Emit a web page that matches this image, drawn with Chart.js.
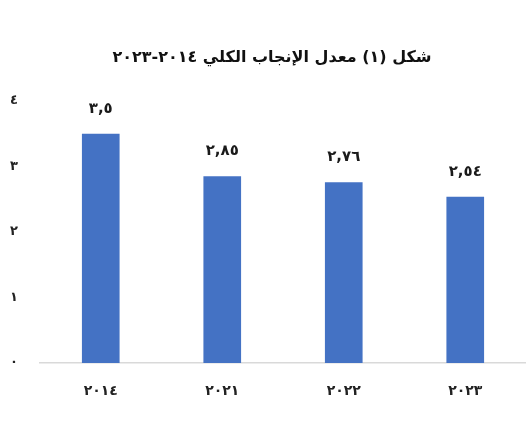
<!DOCTYPE html>
<html lang="ar">
<head>
  <meta charset="UTF-8" />
  <title>معدل الإنجاب الكلي</title>
  <script src="https://cdn.jsdelivr.net/npm/chart.js"></script>
  <style>
    body { margin: 0; padding: 0; background: #ffffff; }
    canvas { display: block; direction: rtl; }
  </style>
</head>
<body>
  <canvas id="chart" width="526" height="442"></canvas>

  <script>
    // data
    const years = ['2014', '2021', '2022', '2023'];
    const fertility = [3.5, 2.85, 2.76, 2.54];
    const yTicks = [0, 1, 2, 3, 4];

    const chartTitle = 'شكل (١) معدل الإنجاب الكلي ٢٠١٤-٢٠٢٣';
    const arabicFont = "'DejaVu Sans', sans-serif";

    // western digits -> arabic-indic digits
    function toArabic(s) {
      return String(s).replace(/[0-9]/g, d => '٠١٢٣٤٥٦٧٨٩'[d]);
    }

    // title sits a little right of the canvas centre in the original
    const titleText = {
      id: 'titleText',
      afterDraw(chart) {
        const ctx = chart.ctx;
        ctx.save();
        ctx.font = 'bold 16px ' + arabicFont;
        ctx.fillStyle = '#111';
        ctx.textAlign = 'center';
        ctx.textBaseline = 'middle';
        ctx.fillText(chartTitle, chart.width / 2 + 9, 58);
        ctx.restore();
      }
    };

    // value labels above the bars, e.g. ٣,٥
    const valueLabels = {
      id: 'valueLabels',
      afterDatasetsDraw(chart) {
        const ctx = chart.ctx;
        const meta = chart.getDatasetMeta(0);
        ctx.save();
        ctx.font = 'bold 15px ' + arabicFont;
        ctx.fillStyle = '#1a1a1a';
        ctx.textAlign = 'center';
        ctx.textBaseline = 'alphabetic';
        meta.data.forEach((bar, i) => {
          const txt = toArabic(String(fertility[i]).replace('.', ','));
          ctx.fillText(txt, bar.x, bar.y - 21);
        });
        ctx.restore();
      }
    };

    new Chart(document.getElementById('chart'), {
      type: 'bar',
      data: {
        labels: years.map(toArabic),
        datasets: [{
          data: fertility,
          backgroundColor: '#4472C4',
          borderWidth: 0,
          barPercentage: 0.31,
          categoryPercentage: 1
        }]
      },
      options: {
        responsive: false,
        animation: false,
        layout: { padding: { left: 0, right: 0, top: 101, bottom: 0 } },
        plugins: {
          legend: { display: false },
          tooltip: { enabled: false },
          title: { display: false }
        },
        scales: {
          x: {
            grid: { display: false, drawTicks: false },
            border: { display: true, color: '#d9d9d9', width: 1.5 },
            ticks: {
              color: '#222',
              padding: 20,
              font: { family: arabicFont, size: 14, weight: 'bold' }
            },
            afterFit(scale) { scale.height = 79; }
          },
          y: {
            min: 0,
            max: 4,
            afterBuildTicks(scale) {
              scale.ticks = yTicks.map(v => ({ value: v }));
            },
            grid: { display: false, drawTicks: false },
            border: { display: false },
            ticks: {
              color: '#222',
              padding: 22,
              font: { family: arabicFont, size: 13, weight: 'bold' },
              callback: v => toArabic(v)
            },
            afterFit(scale) { scale.width = 40; }
          }
        }
      },
      plugins: [valueLabels, titleText]
    });
  </script>
</body>
</html>
